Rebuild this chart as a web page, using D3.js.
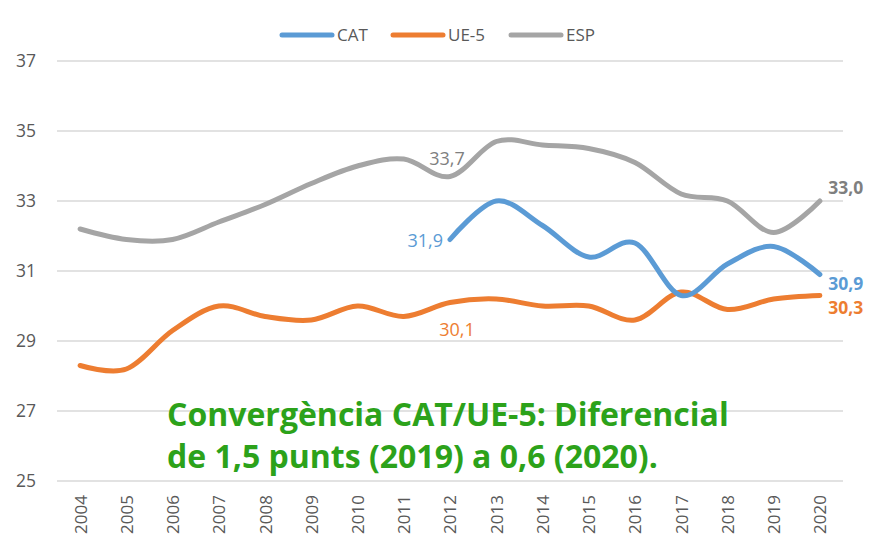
<!DOCTYPE html>
<html>
<head>
<meta charset="utf-8">
<script src="https://cdn.jsdelivr.net/npm/d3@7"></script>
<style>
  body { margin: 0; background: #fff; }
  svg text { font-family: "Open Sans", sans-serif; }
</style>
</head>
<body>
<div id="chart-area"></div>
<script>
var years = ["2004","2005","2006","2007","2008","2009","2010","2011","2012","2013","2014","2015","2016","2017","2018","2019","2020"];
var esp = [32.2, 31.9, 31.9, 32.4, 32.9, 33.5, 34.0, 34.2, 33.7, 34.7, 34.6, 34.5, 34.1, 33.2, 33.0, 32.1, 33.0];
var ue5 = [28.3, 28.2, 29.3, 30.0, 29.7, 29.6, 30.0, 29.7, 30.1, 30.2, 30.0, 30.0, 29.6, 30.4, 29.9, 30.2, 30.3];
var cat = [null, null, null, null, null, null, null, null, 31.9, 33.0, 32.3, 31.4, 31.8, 30.3, 31.2, 31.7, 30.9];
var yTicks = [25, 27, 29, 31, 33, 35, 37];
var seriesNames = ["CAT", "UE-5", "ESP"];
var seriesColors = ["#5B9BD5", "#ED7D31", "#A5A5A5"];
var note = ["Convergència CAT/UE-5: Diferencial", "de 1,5 punts (2019) a 0,6 (2020)."];

var width = 871, height = 544;
var margin = { left: 57, right: 28, top: 61, bottom: 63 };

var svg = d3.select("#chart-area")
  .append("svg")
    .attr("width", width)
    .attr("height", height);

var x = d3.scalePoint()
  .domain(years)
  .range([margin.left, width - margin.right])
  .padding(0.5);

var y = d3.scaleLinear()
  .domain([25, 37])
  .range([height - margin.bottom, margin.top]);

// gridlines
svg.append("g")
  .selectAll("line")
  .data(yTicks)
  .enter().append("line")
    .attr("x1", margin.left)
    .attr("x2", width - margin.right)
    .attr("y1", d => y(d))
    .attr("y2", d => y(d))
    .attr("stroke", "#d9d9d9")
    .attr("stroke-width", 1.3);

// y axis labels
var yAxis = d3.axisLeft(y).tickValues(yTicks).tickSize(0).tickPadding(21);
svg.append("g")
  .attr("class", "y-axis")
  .attr("transform", "translate(" + margin.left + ",0)")
  .call(yAxis)
  .call(g => g.select(".domain").remove())
  .selectAll("text")
    .attr("font-size", "17.5px")
    .attr("font-family", "'Open Sans', sans-serif")
    .attr("fill", "#595959");

// x axis labels
var xAxis = d3.axisBottom(x).tickSize(0);
svg.append("g")
  .attr("class", "x-axis")
  .attr("transform", "translate(0," + y(25) + ")")
  .call(xAxis)
  .call(g => g.select(".domain").remove())
  .selectAll("text")
    .attr("font-size", "17px")
    .attr("font-family", "'Open Sans', sans-serif")
    .attr("fill", "#595959")
    .attr("text-anchor", "end")
    .attr("transform", "rotate(-90)")
    .attr("x", -14)
    .attr("y", 0)
    .attr("dy", "0.35em");

// lines (excel-like smoothing)
var allSeries = [esp, ue5, cat];
var allColors = [seriesColors[2], seriesColors[1], seriesColors[0]];

allSeries.forEach(function (s, k) {
  var pts = s.map((v, i) => ({ v: v, i: i })).filter(d => d.v != null);
  svg.append("path")
    .attr("d", d3.line()
      .x(d => x(years[d.i]))
      .y(d => y(d.v))
      .curve(d3.curveCardinal.tension(0))(pts))
    .attr("fill", "none")
    .attr("stroke", allColors[k])
    .attr("stroke-width", 5)
    .attr("stroke-linecap", "round")
    .attr("stroke-linejoin", "round");
});

// data labels
function fmt(v) { return d3.format(".1f")(v).replace(".", ","); }

var labels = [
  { v: esp[8], i: 8, color: "#7f7f7f", dx: -3, dy: -12, anchor: "middle", bold: false },
  { v: cat[8], i: 8, color: "#5B9BD5", dx: -7, dy: 7, anchor: "end", bold: false },
  { v: ue5[8], i: 8, color: "#ED7D31", dx: 7, dy: 33, anchor: "middle", bold: false },
  { v: esp[16], i: 16, color: "#7f7f7f", dx: 26, dy: -7, anchor: "middle", bold: true },
  { v: cat[16], i: 16, color: "#5B9BD5", dx: 26, dy: 15, anchor: "middle", bold: true },
  { v: ue5[16], i: 16, color: "#ED7D31", dx: 26, dy: 18, anchor: "middle", bold: true }
];

svg.append("g")
  .selectAll("text")
  .data(labels)
  .enter().append("text")
    .attr("x", d => x(years[d.i]) + d.dx)
    .attr("y", d => y(d.v) + d.dy)
    .attr("text-anchor", d => d.anchor)
    .attr("font-size", d => d.bold ? "17.5px" : "18px")
    .attr("font-weight", d => d.bold ? "bold" : "normal")
    .attr("fill", d => d.color)
    .text(d => fmt(d.v));

// legend
var legendX = [282, 393, 511];
var legend = svg.append("g").attr("class", "legend");
seriesNames.forEach(function (name, i) {
  legend.append("line")
    .attr("x1", legendX[i])
    .attr("x2", legendX[i] + 50)
    .attr("y1", 35)
    .attr("y2", 35)
    .attr("stroke", seriesColors[i])
    .attr("stroke-width", 5)
    .attr("stroke-linecap", "round");
  legend.append("text")
    .attr("x", legendX[i] + 55)
    .attr("y", 35)
    .attr("dy", "0.35em")
    .attr("font-size", "17px")
    .attr("fill", "#595959")
    .text(name);
});

// annotation
svg.append("g")
  .selectAll("text")
  .data(note)
  .enter().append("text")
    .attr("x", 167)
    .attr("y", (d, i) => 426 + i * 42)
    .attr("font-size", "32px")
    .attr("font-weight", "bold")
    .attr("fill", "#2CA21A")
    .text(d => d);
</script>
</body>
</html>
